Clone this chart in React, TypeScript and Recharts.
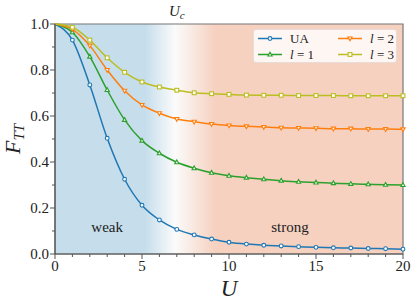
import React from "react"
import { LineChart, Line, XAxis, YAxis, ReferenceArea, ReferenceDot } from "recharts"

const U = [0, 1, 2, 3, 4, 5, 6, 7, 8, 9, 10, 11, 12, 13, 14, 15, 16, 17, 18, 19, 20]
const ua = [1, 0.93, 0.735, 0.503, 0.325, 0.212, 0.148, 0.107, 0.083, 0.065, 0.051, 0.043, 0.038, 0.035, 0.032, 0.029, 0.027, 0.026, 0.024, 0.023, 0.021]
const l1 = [1, 0.964, 0.858, 0.713, 0.583, 0.493, 0.438, 0.399, 0.373, 0.353, 0.34, 0.332, 0.325, 0.319, 0.314, 0.311, 0.308, 0.305, 0.303, 0.301, 0.3]
const l2 = [1, 0.977, 0.906, 0.8, 0.71, 0.648, 0.612, 0.587, 0.575, 0.565, 0.559, 0.555, 0.552, 0.549, 0.548, 0.547, 0.545, 0.545, 0.543, 0.543, 0.542]
const l3 = [1, 0.986, 0.93, 0.853, 0.79, 0.748, 0.726, 0.712, 0.701, 0.697, 0.694, 0.691, 0.69, 0.69, 0.689, 0.689, 0.689, 0.688, 0.688, 0.688, 0.688]

const xTicks = [0, 1, 2, 3, 4, 5, 6, 7, 8, 9, 10, 11, 12, 13, 14, 15, 16, 17, 18, 19, 20]
const yTicks = [0, 0.1, 0.2, 0.3, 0.4, 0.5, 0.6, 0.7, 0.8, 0.9, 1.0]

const series = [
  { key: "ua", name: "UA", color: "#1f77b4", marker: "circle" },
  { key: "l1", name: "l = 1", color: "#2ca02c", marker: "up" },
  { key: "l2", name: "l = 2", color: "#ff7f0e", marker: "down" },
  { key: "l3", name: "l = 3", color: "#bcbd22", marker: "square" },
]

const data = U.map((u, i) => ({ U: u, ua: ua[i], l1: l1[i], l2: l2[i], l3: l3[i] }))

const FONT = "'Liberation Serif', serif"
const AXIS = "#555"

function Marker({ cx, cy, kind, color }: any) {
  const s = 1.9
  if (kind === "circle")
    return <circle cx={cx} cy={cy} r={1.9} fill="#fff" stroke={color} strokeWidth={1.1} />
  if (kind === "square")
    return <rect x={cx - s} y={cy - s} width={s * 2} height={s * 2} fill="#fff" stroke={color} strokeWidth={1.1} />
  const d =
    kind === "up"
      ? `M${cx},${cy - 2.3} L${cx + 2.1},${cy + 1.5} L${cx - 2.1},${cy + 1.5} Z`
      : `M${cx},${cy + 2.3} L${cx + 2.1},${cy - 1.5} L${cx - 2.1},${cy - 1.5} Z`
  return <path d={d} fill="#fff" stroke={color} strokeWidth={1.1} />
}

const makeDot = (kind: string, color: string) => (props: any) => {
  const { cx, cy, payload, index } = props
  if (payload.U === 0) return <g key={index} />
  return <Marker key={index} cx={cx} cy={cy} kind={kind} color={color} />
}

function YTick(props: any) {
  const { x, y, payload } = props
  const major = Math.round(payload.value * 10) % 2 === 0
  return (
    <g>
      <line x1={x - (major ? 5 : 3)} x2={x} y1={y} y2={y} stroke={AXIS} />
      {major && (
        <text x={x - 6} y={y} dy={5} textAnchor="end" fontFamily={FONT} fontSize={15} fill="#222">
          {payload.value.toFixed(1)}
        </text>
      )}
    </g>
  )
}

function XTick(props: any) {
  const { x, y, payload } = props
  const major = payload.value % 5 === 0
  return (
    <g>
      <line x1={x} x2={x} y1={y} y2={y + (major ? 5 : 3)} stroke={AXIS} />
      {major && (
        <text x={x} y={y + 17} textAnchor="middle" fontFamily={FONT} fontSize={15} fill="#222">
          {payload.value}
        </text>
      )}
    </g>
  )
}

function LegendLabel({ name }: { name: string }) {
  if (name === "UA") return <span>UA</span>
  return (
    <span>
      <i>l</i> = {name.slice(4)}
    </span>
  )
}

function LegendBox() {
  const order = [series[0], series[2], series[1], series[3]]
  return (
    <div
      style={{
        position: "absolute",
        left: 253,
        top: 29,
        width: 144,
        height: 34,
        boxSizing: "border-box",
        background: "rgba(255,255,255,0.8)",
        border: "1px solid #e6dcd8",
        borderRadius: 3,
        display: "grid",
        gridTemplateColumns: "80px 60px",
        padding: "1px 0 0 2px",
        fontFamily: FONT,
        fontSize: 13,
        color: "#222",
        lineHeight: "15px",
      }}
    >
      {order.map((s) => (
        <div key={s.key} style={{ display: "flex", alignItems: "center" }}>
          <svg width={27} height={15}>
            <line x1={2} x2={26} y1={7.5} y2={7.5} stroke={s.color} strokeWidth={1.5} />
            <Marker cx={14} cy={7.5} kind={s.marker} color={s.color} />
          </svg>
          <span style={{ marginLeft: 7 }}>
            <LegendLabel name={s.name} />
          </span>
        </div>
      ))}
    </div>
  )
}

export default function App() {
  return (
    <div style={{ position: "absolute", left: 0, top: 0, width: 415, height: 306, background: "#fff" }}>
      <svg width={0} height={0} style={{ position: "absolute" }}>
        <defs>
          <linearGradient id="bg" x1="0" x2="1" y1="0" y2="0">
            <stop offset="0" stopColor="#c6deec" />
            <stop offset="0.26" stopColor="#c6deec" />
            <stop offset="0.345" stopColor="#fbfbfb" />
            <stop offset="0.46" stopColor="#f6d1c0" />
            <stop offset="1" stopColor="#f6d1c0" />
          </linearGradient>
        </defs>
      </svg>
      <LineChart width={415} height={306} data={data} margin={{ top: 24, right: 12, bottom: 0, left: 0 }}>
        <ReferenceArea x1={0} x2={20} y1={0} y2={1} fill="url(#bg)" fillOpacity={1} stroke="#777" strokeWidth={1.2} />
        <XAxis
          dataKey="U"
          type="number"
          domain={[0, 20]}
          ticks={xTicks}
          interval={0}
          height={52}
          tickSize={0}
          tickMargin={0}
          tickLine={false}
          axisLine={{ stroke: AXIS, strokeWidth: 1.2 }}
          tick={<XTick />}
          label={{
            content: ({ viewBox }: any) => (
              <text
                x={viewBox.x + viewBox.width / 2}
                y={viewBox.y + 42}
                textAnchor="middle"
                fontFamily={FONT}
                fontStyle="italic"
                fontSize={23}
                fill="#222"
              >
                U
              </text>
            ),
          }}
        />
        <YAxis
          type="number"
          domain={[0, 1]}
          ticks={yTicks}
          interval={0}
          width={55}
          tickSize={0}
          tickMargin={0}
          tickLine={false}
          axisLine={{ stroke: AXIS, strokeWidth: 1.2 }}
          tick={<YTick />}
          label={{
            content: ({ viewBox }: any) => {
              const cy = viewBox.y + viewBox.height / 2
              return (
                <text
                  transform={`translate(20,${cy}) rotate(-90)`}
                  textAnchor="middle"
                  fontFamily={FONT}
                  fontStyle="italic"
                  fontSize={22}
                  fill="#222"
                >
                  F
                  <tspan fontSize={15} dy={4}>
                    TT
                  </tspan>
                </text>
              )
            },
          }}
        />
        <ReferenceDot
          x={7}
          y={1}
          r={0}
          ifOverflow="visible"
          label={{
            content: ({ viewBox }: any) => (
              <text x={viewBox.x} y={16} textAnchor="middle" fontFamily={FONT} fontStyle="italic" fontSize={15} fill="#222">
                U
                <tspan fontSize={11} dy={3}>
                  c
                </tspan>
              </text>
            ),
          }}
        />
        <ReferenceDot
          x={3}
          y={0.12}
          r={0}
          label={{ value: "weak", position: "center", fontFamily: FONT, fontSize: 15, fill: "#222" }}
        />
        <ReferenceDot
          x={13.5}
          y={0.12}
          r={0}
          label={{ value: "strong", position: "center", fontFamily: FONT, fontSize: 15, fill: "#222" }}
        />
        {series.map((s) => (
          <Line
            key={s.key}
            type="monotone"
            dataKey={s.key}
            name={s.name}
            stroke={s.color}
            strokeWidth={1.5}
            dot={makeDot(s.marker, s.color)}
            activeDot={false}
            isAnimationActive={false}
          />
        ))}
      </LineChart>
      <LegendBox />
    </div>
  )
}
